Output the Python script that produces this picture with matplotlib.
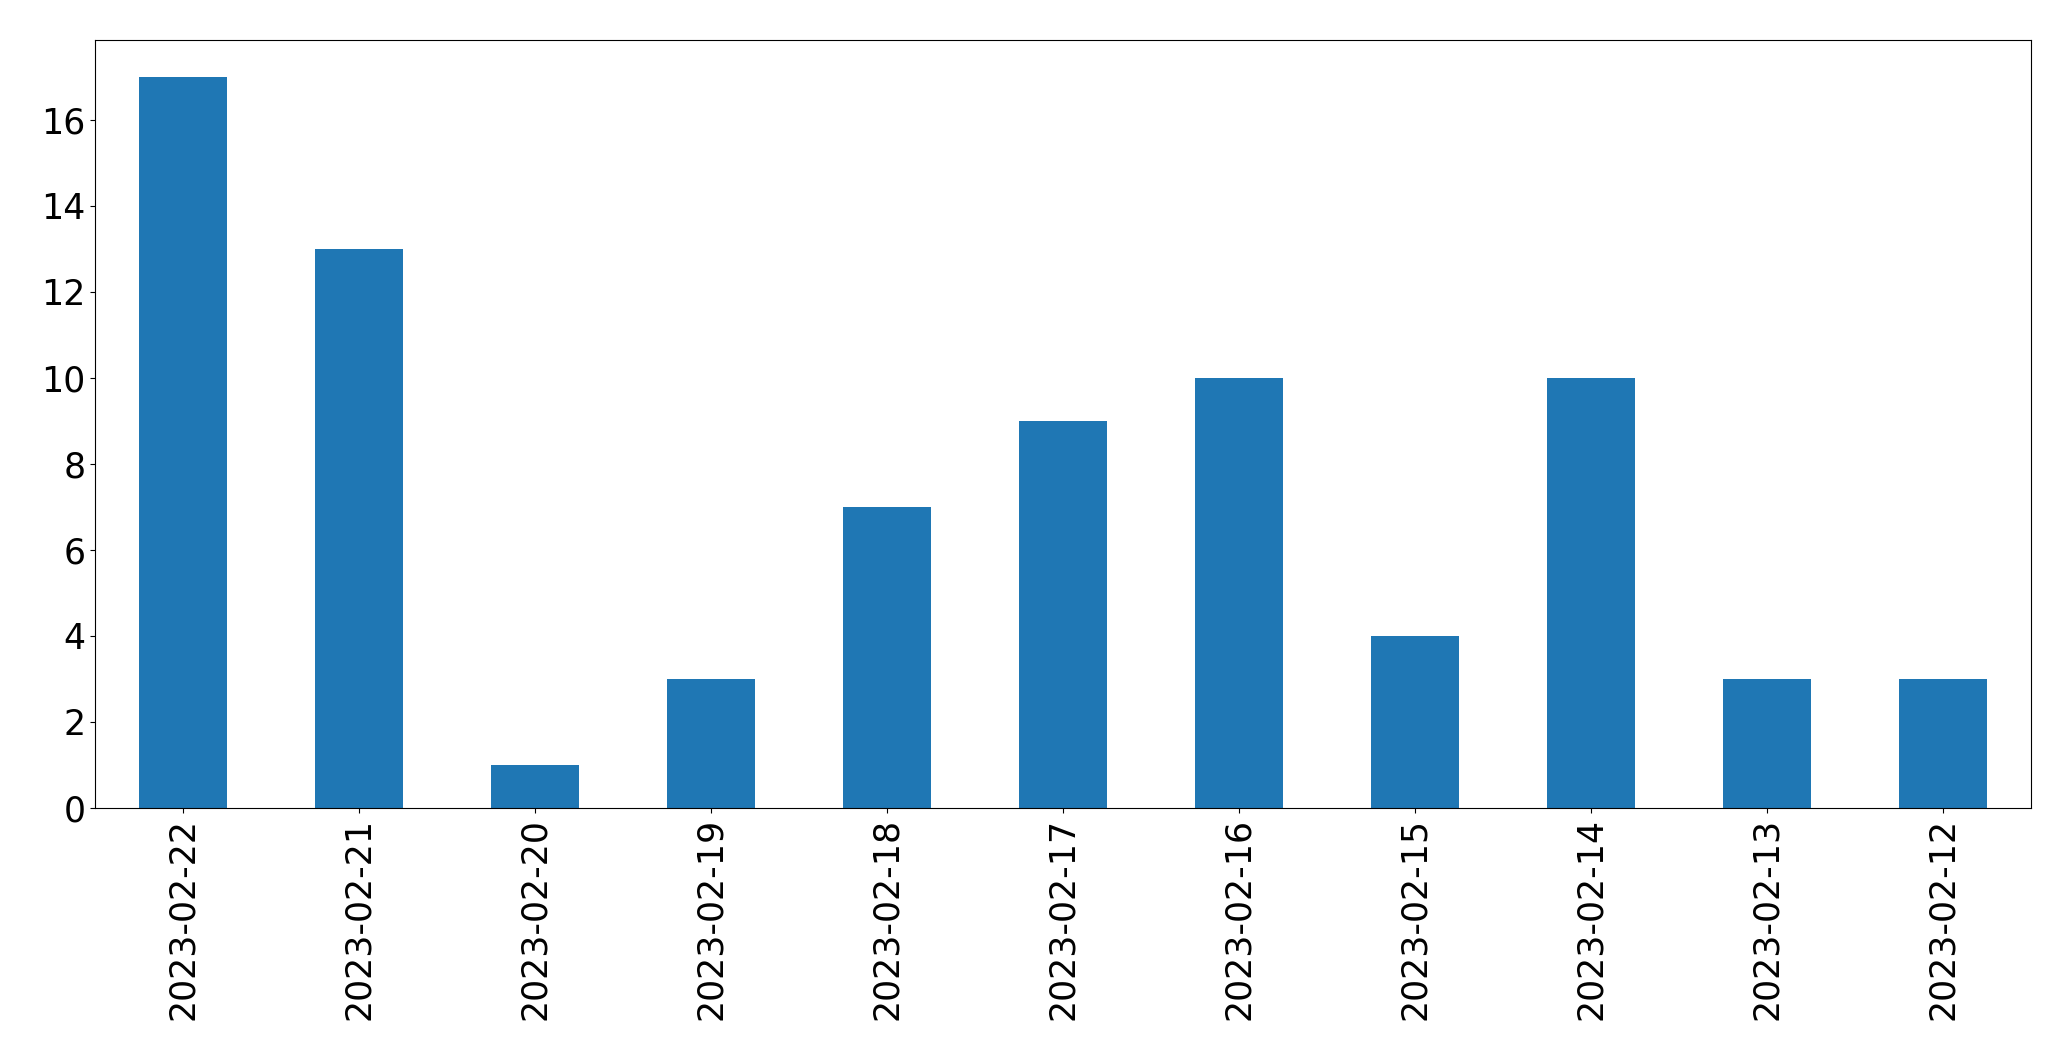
import matplotlib
matplotlib.use("Agg")
import matplotlib.pyplot as plt

dates = ["2023-02-22", "2023-02-21", "2023-02-20", "2023-02-19", "2023-02-18",
         "2023-02-17", "2023-02-16", "2023-02-15", "2023-02-14", "2023-02-13",
         "2023-02-12"]
counts = [17, 13, 1, 3, 7, 9, 10, 4, 10, 3, 3]

fig = plt.figure(figsize=(20.71, 10.61), dpi=100)
ax = fig.add_axes([95/2071, 1 - 808/1061, (2031-95)/2071, (808-40)/1061])
x = range(len(dates))
ax.bar(x, counts, width=0.5, color="#1f77b4")
ax.set_xticks(list(x))
ax.set_xticklabels(dates, rotation=90)
ax.set_xlim(-0.5, len(dates) - 0.5)
ax.tick_params(labelsize=25)
fig.savefig("out.png", dpi=100)
